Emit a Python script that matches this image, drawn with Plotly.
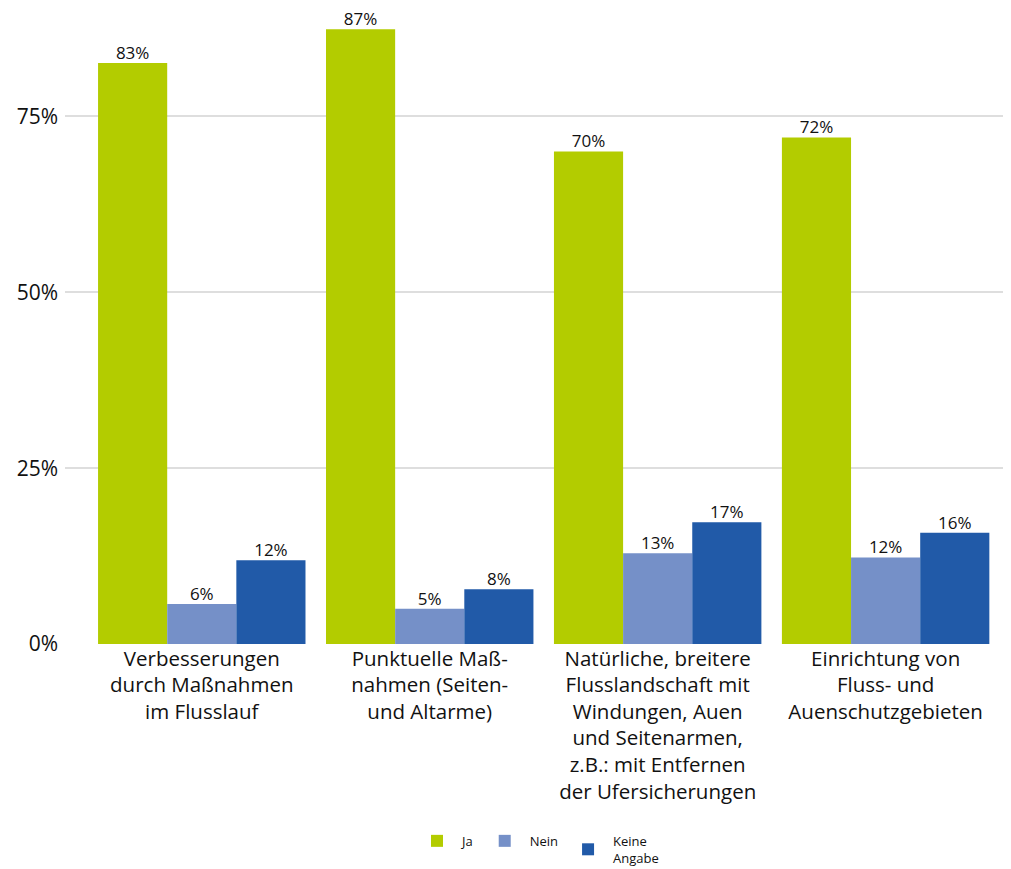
import plotly.graph_objects as go

categories = [
    "Verbesserungen<br>durch Maßnahmen<br>im Flusslauf",
    "Punktuelle Maß-<br>nahmen (Seiten-<br>und Altarme)",
    "Natürliche, breitere<br>Flusslandschaft mit<br>Windungen, Auen<br>und Seitenarmen,<br>z.B.: mit Entfernen<br>der Ufersicherungen",
    "Einrichtung von<br>Fluss- und<br>Auenschutzgebieten",
]
series_names = ["Ja", "Nein", "Keine<br>Angabe"]
ja = [0.826, 0.874, 0.700, 0.720]
nein = [0.057, 0.050, 0.129, 0.123]
keine = [0.119, 0.078, 0.173, 0.158]
labels_ja = ["83%", "87%", "70%", "72%"]
labels_nein = ["6%", "5%", "13%", "12%"]
labels_keine = ["12%", "8%", "17%", "16%"]
colors = ["#b3cc00", "#7590c8", "#215aa8"]

font_family = "Open Sans, Noto Sans, sans-serif"

fig = go.Figure()
xs = list(range(len(categories)))
for i, (name, vals, col) in enumerate(zip(series_names, [ja, nein, keine], colors)):
    fig.add_trace(go.Bar(
        x=xs, y=vals, name=name, offsetgroup=str(i),
        marker=dict(color=col, line=dict(width=0)),
    ))
for i, (vals, labs) in enumerate(zip([ja, nein, keine], [labels_ja, labels_nein, labels_keine])):
    fig.add_trace(go.Scatter(
        x=xs, y=vals, text=labs, mode="text", offsetgroup=str(i),
        textposition="top center", showlegend=False, hoverinfo="skip",
        textfont=dict(size=17, color="#111111", family=font_family),
        cliponaxis=False,
    ))

fig.update_layout(
    width=1011, height=869,
    barmode="group", bargap=0.09, bargroupgap=0,
    scattermode="group", scattergap=0.09,
    plot_bgcolor="white", paper_bgcolor="white",
    margin=dict(l=57, r=8, t=4, b=230),
    font=dict(family=font_family, color="#111111"),
    xaxis=dict(
        tickmode="array", tickvals=xs, ticktext=categories,
        range=[-0.6, 3.55], tickfont=dict(size=20.5), showgrid=False,
        showline=False, ticks="", zeroline=False, automargin=False,
    ),
    yaxis=dict(
        range=[0, 0.8985], tickvals=[0, 0.25, 0.5, 0.75], ticktext=["0%", "25%", "50%", "75%"],
        tickfont=dict(size=21), showgrid=True, gridcolor="#dedede", gridwidth=1.5,
        zeroline=False, showline=False, ticks="", ticklabelstandoff=6, automargin=False,
    ),
    legend=dict(
        orientation="h", x=0.5, xanchor="center", y=-0.325, yanchor="middle",
        font=dict(size=13), itemwidth=40,
    ),
    showlegend=True,
)

fig.write_html("out.html")
